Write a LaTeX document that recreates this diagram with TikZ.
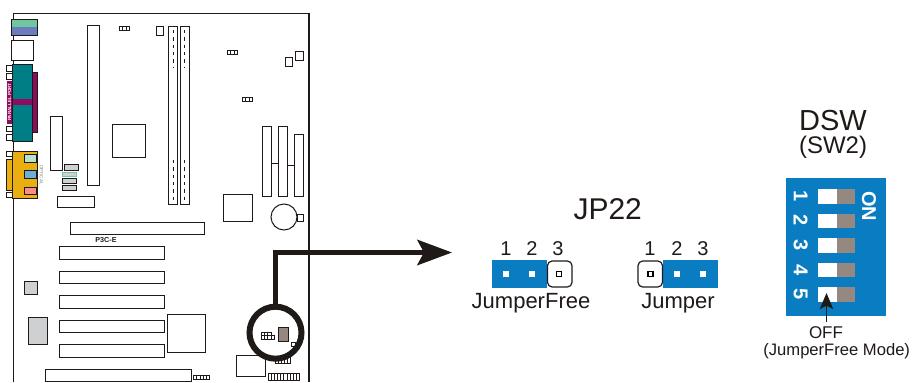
\documentclass[tikz,border=0pt]{standalone}
\usepackage{fontspec}
\setmainfont{Liberation Sans}
\usetikzlibrary{arrows.meta}
\definecolor{jblue}{HTML}{0A7CC1}
\definecolor{jteal}{HTML}{007E85}
\definecolor{jmag}{HTML}{8E0B5F}
\definecolor{jyellow}{HTML}{E9AE12}
\definecolor{jgreen}{HTML}{6FC6A0}
\definecolor{jviolet}{HTML}{6B7DBD}
\definecolor{jbrown}{HTML}{958881}
\definecolor{jgray}{HTML}{CFD0D2}
\definecolor{jink}{HTML}{1F1A17}
\newcommand{\fpx}[1]{\fontsize{\dimexpr#1pt*3/4\relax}{\dimexpr#1pt\relax}\selectfont}
\tikzset{
  part/.style={draw=jink,line width=0.75pt,fill=white},
  thin part/.style={draw=jink,line width=0.5pt,fill=white},
  frame/.style={draw=jink,line width=1pt},
  pointer/.style={draw=jink,line width=3.6pt},
  label/.style={inner sep=0pt,text=jink,anchor=center},
  dip/.style={inner sep=0pt,text=white,font=\bfseries\fpx{20},rotate=-90,anchor=center},
  pinb/.style={draw=black,line width=0.9pt,fill=white},
  pins/.style={draw=jink,line width=0.4pt,fill=white}
}
\newcommand{\pinrow}[4]{% x0 y0 n pitch
  \foreach \i in {1,...,#3}{\draw[pins] ({#1+(\i-1)*#4},#2) rectangle ++(#4,4);}}
\begin{document}
\begin{tikzpicture}[x=0.75pt,y=-0.75pt]
\useasboundingbox (0,0) rectangle (912,382);
\begin{scope}
\clip (0,0) rectangle (912,382);
% board outline
\draw[frame] (13.7,382) -- (13.7,13.5) -- (309,13.5) -- (309,382);
% back panel
\fill[jgreen] (11.7,19) rectangle (37.3,27.3);
\fill[jviolet] (11.7,27.3) rectangle (37.3,35.3);
\draw[part,fill=none] (11.7,19) rectangle (37.3,35.3);
\draw[part] (11.5,40) rectangle (33.3,60);
\foreach \y/\h in {65/6,73/6,126/5,134.5/6}{\draw[thin part] (6.5,\y) rectangle ++(6,\h);}
\fill[jmag] (6.5,81) rectangle (12.5,124);
\fill[jmag] (32,72) rectangle (37,132);
\draw[jink,line width=0.5pt] (32,72) -- (37,72) -- (37,132) -- (32,132);
\fill[jteal] (12.5,64.5) rectangle (32,98.5);
\fill[jmag] (12.5,98.5) rectangle (32,105);
\fill[jteal] (12.5,105) rectangle (32,141.5);
\draw[jink,line width=0.5pt] (12.5,64.5) rectangle (32,141.5);
\node[inner sep=0pt,text=white,font=\bfseries\fpx{4.5},rotate=90] (parport) at (9.5,102) {PARALLEL PORT};
% audio stack
\foreach \y/\h in {151.5/5,192/5}{\draw[thin part] (6.5,\y) rectangle ++(6,\h);}
\draw[jink,line width=0.5pt,fill=jyellow] (6.5,159) rectangle (12.5,190);
\draw[jink,line width=0.5pt,fill=jyellow] (12.5,151) rectangle (37.5,198);
\draw[jink,line width=0.5pt,fill=jgreen!50!white] (24.5,154) rectangle (36,162);
\draw[jink,line width=0.5pt,fill=jblue!60!white] (24.5,170) rectangle (36,178);
\draw[jink,line width=0.5pt,fill=red!45!white] (24.5,187) rectangle (36,194);
\node[inner sep=0pt,text=jink!60,font=\fpx{4.5},rotate=-90] (optical) at (41.5,175) {OPTICAL};
% left block
\draw[part] (50.5,116.5) rectangle (62.5,170);
\draw[part] (87.5,25) rectangle (99.5,185.5);
\draw[part] (112,124.5) rectangle (145,157);
\draw[part] (57,196) rectangle (94,207.5);
\draw[thin part,fill=jgray] (64.5,164) rectangle (78.5,170);
\draw[jgreen,line width=0.6pt,fill=jgray] (62,172) rectangle (76,176.5);
\draw[thin part,fill=jgray] (62,178) rectangle (76,183);
\draw[thin part,fill=jgray] (62,185) rectangle (76,190);
\pinrow{119}{26.5}{3}{3.4}
\draw[part] (156,26) rectangle (163,35);
% DIMMs
\foreach \x in {168.5,180}{
  \draw[part] (\x,26) rectangle ++(9,178);
  \draw[jink,line width=0.6pt,dash pattern=on 2.5pt off 3pt] (\x+4.5,30) -- (\x+4.5,67);
  \draw[jink,line width=0.6pt,dash pattern=on 2.5pt off 3pt] (\x+4.5,160) -- (\x+4.5,204);
}
\pinrow{227}{50}{3}{3.4}
\pinrow{242}{97}{3}{3.4}
\draw[part] (285,57) rectangle (292,66);
\draw[part] (295.5,51) rectangle (303,60);
% right connectors
\draw[part] (262,126.5) rectangle (271,196);
\draw[part] (278,126.5) rectangle (287,196);
\draw[part] (294,134.5) rectangle (303,196);
\draw[jink,line width=0.6pt] (271,163) -- (278,163) (287,165) -- (294,165);
\draw[part] (223,194) rectangle (252,221);
\draw[part] (297,214) rectangle (303,221);
\draw[part] (284,217) circle (13);
% slots
\draw[part] (70.5,222.5) rectangle (204,234.5);
\node[inner sep=0pt,text=jink,font=\bfseries\fpx{7.2}] (board) at (106,239.6) {P3C-E};
\foreach \y in {246.5,271,295.5,320,344.5}{\draw[part] (59.5,\y) rectangle (164,\y+12.5);}
\draw[part] (45.5,369) rectangle (191,381);
\draw[part,fill=jgray] (24.5,281) rectangle (37.5,294.5);
\draw[part,fill=jgray] (28,317.5) rectangle (47,344.5);
\draw[part] (167.3,314.3) rectangle (205,352);
\pinrow{193.5}{375}{5}{3.2}
\draw[part] (236.5,355.5) rectangle (265,376);
\foreach \i in {0,...,9}{\draw[thin part] (268+\i*3.15,373) rectangle ++(3.15,7);}
% JP22 on board
\draw[part,line width=0.6pt,fill=jbrown] (278.3,327) rectangle (288.7,341);
\foreach \i in {0,1,2}{\draw[pins] (261.5+\i*3.1,332) rectangle ++(3.1,3.5);}
\foreach \i in {0,1,2,3}{\draw[pins] (261.5+\i*3.1,335.5) rectangle ++(3.1,3.5);}
\draw[thin part] (291,342) rectangle (295,346);
\foreach \i in {0,...,4}{\draw[thin part] (275.5+\i*3,356) rectangle ++(3,7);}
\end{scope}
% pointer
\node[circle,pointer,line width=4.5pt,minimum size=39pt,inner sep=0pt,outer sep=0pt] (ring) at (275.5,332.7) {};
\coordinate (tip) at (452,252.5);
\draw[pointer,-{Stealth[length=26pt,width=19pt,inset=5pt]}] (ring.north) |- (tip);
% JP22 title
\node[label,font=\fpx{30}] (jptitle) at (607.7,209.3) {JP22};
% jumper left
\fill[jblue] (492,260) rectangle (546.7,288.3);
\fill[white] (503,271) rectangle ++(6,6);
\fill[white] (529,271) rectangle ++(6,6);
\draw[line width=0.9pt,draw=jink,rounded corners=3.5pt] (547.5,261) rectangle (572,287);
\draw[pinb] (556.5,271.5) rectangle ++(5,5);
\node[label,font=\fpx{20}] (la1) at (506,249) {1};
\node[label,font=\fpx{20}] (la2) at (532,249) {2};
\node[label,font=\fpx{20}] (la3) at (558,249) {3};
\node[label,font=\fpx{22}] (free) at (531,303.5) {JumperFree};
% jumper right
\fill[jblue] (663,260) rectangle (718,288.3);
\fill[white] (674,271) rectangle ++(6,6);
\fill[white] (700,271) rectangle ++(6,6);
\draw[line width=0.9pt,draw=jink,rounded corners=3.5pt] (638,261) rectangle (662.5,287);
\draw[pinb] (648,271.5) rectangle ++(5,5);
\node[label,font=\fpx{20}] (lb1) at (650,249) {1};
\node[label,font=\fpx{20}] (lb2) at (677,249) {2};
\node[label,font=\fpx{20}] (lb3) at (703,249) {3};
\node[label,font=\fpx{22}] (jump) at (678,303.5) {Jumper};
% DSW
\node[label,font=\fpx{29}] (dsw) at (833,121) {DSW};
\node[label,font=\fpx{24}] (sw) at (833,147.5) {(SW2)};
\fill[jblue] (785.7,178.3) rectangle (885.7,316);
\foreach \y/\n/\c in {189.3/1/196.5,214/2/220.5,238.3/3/245,262.7/4/270,287.3/5/294}{
  \fill[white] (818,\y) rectangle (837,\y+14.4);
  \fill[jbrown] (837,\y) rectangle (855,\y+14.4);
  \node[dip] (d\n) at (800.7,\c) {\n};
}
\node[dip] (on) at (869,206) {ON};
\coordinate (off tail) at (826.5,321.7);
\coordinate (off tip) at (826.5,293);
\draw[draw=jink,line width=1.3pt,-{Stealth[length=12pt,width=10pt,inset=2.5pt]}] (off tail) -- (off tip);
\node[label,font=\fpx{17}] (off) at (826,332.2) {OFF};
\node[label,font=\fpx{16.6}] (mode) at (836.7,351) {(JumperFree Mode)};
\end{tikzpicture}
\end{document}
